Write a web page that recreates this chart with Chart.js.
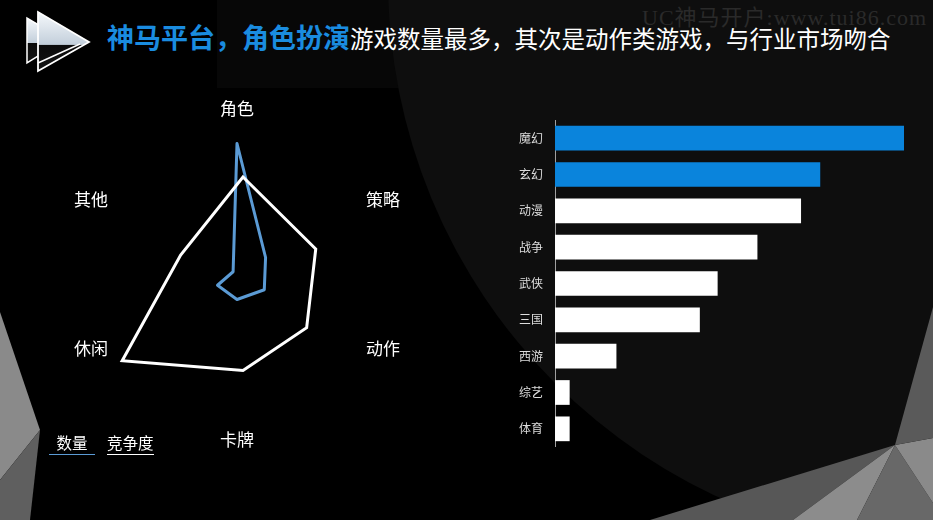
<!DOCTYPE html>
<html>
<head>
<meta charset="utf-8">
<script src="https://cdn.jsdelivr.net/npm/chart.js@4.4.0/dist/chart.umd.min.js"></script>
<style>
  html, body { margin: 0; padding: 0; }
  body {
    width: 933px; height: 520px; overflow: hidden; position: relative;
    background: #000; font-family: "Noto Sans CJK SC", sans-serif;
  }
  #bg { position: absolute; left: 0; top: 0; }
  #wm {
    position: absolute; left: 642px; top: -1px; white-space: nowrap;
    font: 22px "Liberation Serif", "Noto Sans CJK SC", serif; letter-spacing: 1px;
    color: #2a2a2a;
  }
  #title {
    position: absolute; left: 107px; top: 19px; line-height: 36px; white-space: nowrap;
    color: #fff; font-size: 23.5px;
  }
  #title .hl { color: #1a8ce0; font-weight: bold; font-size: 27px; }
  .box { position: absolute; }
  #legend { position: absolute; left: 49px; top: 432px; display: flex; gap: 12px; }
  #legend .item {
    min-width: 46px; text-align: center; color: #fff; font-size: 15.5px; line-height: 21px;
    white-space: nowrap; padding-bottom: 1px;
  }
</style>
</head>
<body>
<svg id="bg" width="933" height="520">
  <defs>
    <linearGradient id="logoFill" x1="0" y1="0" x2="0" y2="1">
      <stop offset="0" stop-color="#f6f9fc"/>
      <stop offset="0.55" stop-color="#c3cfdb"/>
      <stop offset="0.56" stop-color="#0b0b0b"/>
      <stop offset="1" stop-color="#141414"/>
    </linearGradient>
  </defs>
  <rect x="217" y="0" width="716" height="88" fill="#070707"/>
  <circle cx="958" cy="-20" r="570" fill="#0e0e0e"/>
  <!-- bottom right facets -->
  <polygon points="650,520 895,445 793,520" fill="#575757"/>
  <polygon points="793,520 895,445 857,520" fill="#8c8c8c"/>
  <polygon points="857,520 895,445 933,503 933,520" fill="#686868"/>
  <polygon points="895,445 933,438 933,503" fill="#8a8a8a"/>
  <polygon points="895,445 933,307 933,438" fill="#5a5a5a"/>
  <!-- bottom left facets -->
  <polygon points="0,312 40,430 0,480" fill="#8a8a8a"/>
  <polygon points="0,480 40,430 30,520 0,520" fill="#5f5f5f"/>
  <!-- logo -->
  <polygon points="27,18 27,63 64,40" fill="url(#logoFill)" stroke="#fff" stroke-width="1.5"/>
  <polygon points="38,12 38,71 89,42" fill="url(#logoFill)" stroke="#fff" stroke-width="1.8"/>
  <line x1="38" y1="63" x2="80" y2="44" stroke="#fff" stroke-width="1.5"/>
</svg>

<div id="wm">UC神马开户:www.tui86.com</div>
<div id="title"><span class="hl">神马平台，角色扮演</span>游戏数量最多，其次是动作类游戏，与行业市场吻合</div>

<div class="box" style="left:37px; top:74px;"><canvas id="radarCount" width="400" height="400"></canvas></div>
<div class="box" style="left:43px; top:91px;"><canvas id="radarComp" width="400" height="400"></canvas></div>
<div id="legend"></div>

<div class="box" style="left:490px; top:120px;"><canvas id="barChart" width="414" height="327"></canvas></div>

<script>
// 雷达图：游戏类型
const radarLabels = ["角色", "策略", "动作", "卡牌", "休闲", "其他"];
const seriesNames = ["数量", "竞争度"];
const countValues = [87, 22, 21, 17, 15, 3];
const competeValues = [76, 56, 49, 53, 93, 48];

// 条形图：游戏题材
const themeLabels = ["魔幻", "玄幻", "动漫", "战争", "武侠", "三国", "西游", "综艺", "体育"];
const themeValues = [100, 76, 70.5, 58, 46.6, 41.5, 17.6, 4.2, 4.2];

const BLUE_LINE = "#5b9bd5";
const BLUE_BAR = "#0a84dc";
const FONT = '"Noto Sans CJK SC", sans-serif';

// 轴标签：按角度对齐，类似 Chart.js 自带的 pointLabels
const radarLabelPlugin = {
    id: "radarLabels",
    afterDraw(chart) {
        const scale = chart.scales.r;
        const ctx = chart.ctx;
        ctx.save();
        ctx.font = "17px " + FONT;
        ctx.fillStyle = "#fff";
        chart.data.labels.forEach((label, i) => {
            const angle = scale.getIndexAngle(i);
            const s = Math.sin(angle), c = Math.cos(angle);
            const vertical = Math.abs(s) < 0.01;
            const pos = scale.getPointPosition(i, scale.drawingArea + (vertical ? 7 : -1));
            ctx.textAlign = vertical ? "center" : (s > 0 ? "left" : "right");
            ctx.textBaseline = vertical ? (c > 0 ? "bottom" : "top") : "middle";
            ctx.fillText(label, pos.x, pos.y);
        });
        ctx.restore();
    }
};

function radarOptions() {
    return {
        responsive: false,
        animation: false,
        layout: { padding: 50 },
        elements: { point: { radius: 0 }, line: { tension: 0 } },
        scales: {
            r: {
                min: 0,
                max: 100,
                angleLines: { display: false },
                grid: { display: false },
                ticks: { display: false },
                pointLabels: { display: false }
            }
        },
        plugins: { legend: { display: false }, tooltip: { enabled: false } }
    };
}

new Chart(document.getElementById("radarCount"), {
    type: "radar",
    data: {
        labels: radarLabels,
        datasets: [{
            label: seriesNames[0],
            data: countValues,
            borderColor: BLUE_LINE,
            borderWidth: 3,
            borderJoinStyle: "round",
            fill: false
        }]
    },
    options: radarOptions(),
    plugins: [radarLabelPlugin]
});

new Chart(document.getElementById("radarComp"), {
    type: "radar",
    data: {
        labels: radarLabels,
        datasets: [{
            label: seriesNames[1],
            data: competeValues,
            borderColor: "#ffffff",
            borderWidth: 3,
            fill: false
        }]
    },
    options: radarOptions()
});

// 图例（下划线样式）
const legendColors = [BLUE_LINE, "#ffffff"];
const legend = document.getElementById("legend");
seriesNames.forEach((name, i) => {
    const item = document.createElement("div");
    item.className = "item";
    item.textContent = name;
    item.style.borderBottom = "1.5px solid " + legendColors[i];
    legend.appendChild(item);
});

// 条形图
new Chart(document.getElementById("barChart"), {
    type: "bar",
    data: {
        labels: themeLabels,
        datasets: [{
            data: themeValues,
            backgroundColor: (c) => (c.dataIndex < 2 ? BLUE_BAR : "#ffffff"),
            barPercentage: 0.68,
            categoryPercentage: 1
        }]
    },
    options: {
        indexAxis: "y",
        responsive: false,
        animation: false,
        layout: { padding: 0, autoPadding: false },
        scales: {
            x: { display: false, min: 0, max: 100 },
            y: {
                afterFit(scale) {
                    scale.width = 65;
                    scale.paddingTop = 0;
                    scale.paddingBottom = 0;
                },
                grid: { display: false, drawTicks: false },
                border: { display: true, color: "#a0a0a0", width: 1 },
                ticks: { color: "#dddddd", padding: 12, font: { size: 12, family: FONT } }
            }
        },
        plugins: { legend: { display: false }, tooltip: { enabled: false } }
    }
});
</script>
</body>
</html>
